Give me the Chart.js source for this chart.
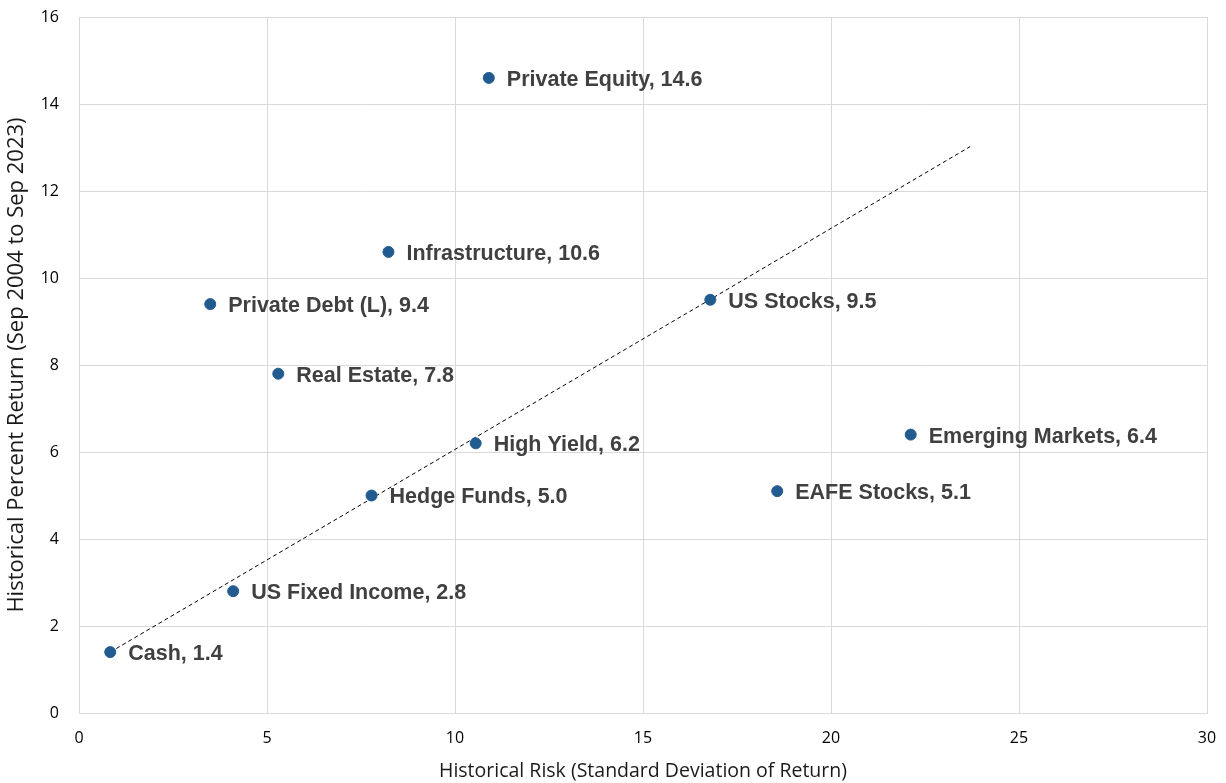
<!DOCTYPE html>
<html>
<head>
<meta charset="utf-8">
<script src="https://cdn.jsdelivr.net/npm/chart.js@4"></script>
<style>
  html, body { margin: 0; padding: 0; background: #fff; }
  #wrap { width: 1226px; height: 783px; }
</style>
</head>
<body>
<div id="wrap"><canvas id="riskReturn"></canvas></div>
<script>
// asset classes, risk (x) and return (y)
const assetNames = [
    "Cash", "US Fixed Income", "Hedge Funds", "High Yield", "Real Estate",
    "Private Debt (L)", "Infrastructure", "Private Equity", "US Stocks",
    "Emerging Markets", "EAFE Stocks",
];
const riskValues = [0.83, 4.1, 7.78, 10.55, 5.3, 3.49, 8.23, 10.9, 16.79, 22.12, 18.57];
const returnValues = [1.4, 2.8, 5.0, 6.2, 7.8, 9.4, 10.6, 14.6, 9.5, 6.4, 5.1];

// trendline endpoints (risk, return)
const trendX = [0.83, 23.7];
const trendY = [1.4, 13.02];

const xTicks = [0, 5, 10, 15, 20, 25, 30];
const yTicks = [0, 2, 4, 6, 8, 10, 12, 14, 16];

const pointColor = "#225b8f";
const labelColor = "#404040";
const gridColor = "#d9d9d9";

const tickFont = { family: "'Open Sans', Lato, sans-serif", size: 16 };

// draws "Name, value" next to each point
const pointLabels = {
    id: "pointLabels",
    afterDatasetsDraw(chart) {
        const { ctx } = chart;
        const meta = chart.getDatasetMeta(0);
        ctx.save();
        ctx.font = "bold 21.5px 'Liberation Sans', Arial, sans-serif";
        ctx.fillStyle = labelColor;
        ctx.textAlign = "left";
        ctx.textBaseline = "middle";
        meta.data.forEach((pt, i) => {
            const txt = `${assetNames[i]}, ${returnValues[i].toFixed(1)}`;
            ctx.fillText(txt, pt.x + 18, pt.y + 2);
        });
        ctx.restore();
    },
};

const ctx = document.getElementById("riskReturn");

new Chart(ctx, {
    type: "scatter",
    data: {
        datasets: [
            {
                label: "Asset Classes",
                data: riskValues.map((x, i) => ({ x, y: returnValues[i] })),
                backgroundColor: pointColor,
                borderColor: pointColor,
                pointRadius: 5.5,
                pointHoverRadius: 5.5,
                order: 1,
            },
            {
                label: "Trend",
                type: "line",
                data: trendX.map((x, i) => ({ x, y: trendY[i] })),
                borderColor: "#000",
                borderWidth: 1,
                borderDash: [4, 3],
                pointRadius: 0,
                fill: false,
                order: 2,
            },
        ],
    },
    options: {
        responsive: true,
        maintainAspectRatio: false,
        animation: false,
        layout: { padding: { top: 17, right: 19, left: 0, bottom: 0 } },
        scales: {
            x: {
                type: "linear",
                min: 0,
                max: 30,
                afterBuildTicks: (scale) => {
                    scale.ticks = xTicks.map((v) => ({ value: v }));
                },
                afterFit: (scale) => {
                    scale.height = 70;
                    scale.paddingLeft = 0;
                    scale.paddingRight = 0;
                },
                grid: { color: gridColor, lineWidth: 1, drawTicks: false },
                border: { color: gridColor, width: 1 },
                ticks: { color: "#000", font: tickFont, padding: 16 },
                title: {
                    display: true,
                    text: "Historical Risk (Standard Deviation of Return)",
                    color: "#1a1a1a",
                    font: { family: "'Open Sans', Lato, sans-serif", size: 19.5 },
                    padding: { top: 0, bottom: 0 },
                },
            },
            y: {
                type: "linear",
                min: 0,
                max: 16,
                afterBuildTicks: (scale) => {
                    scale.ticks = yTicks.map((v) => ({ value: v }));
                },
                afterFit: (scale) => {
                    scale.width = 79;
                    scale.paddingTop = 0;
                    scale.paddingBottom = 0;
                },
                grid: { color: gridColor, lineWidth: 1, drawTicks: false },
                border: { color: gridColor, width: 1 },
                ticks: { color: "#000", font: tickFont, padding: 20 },
                title: {
                    display: true,
                    text: "Historical Percent Return (Sep 2004 to Sep 2023)",
                    color: "#1a1a1a",
                    font: { family: "'Open Sans', Lato, sans-serif", size: 22 },
                    padding: { top: 4, bottom: 0 },
                },
            },
        },
        plugins: {
            legend: { display: false },
            tooltip: { enabled: false },
        },
    },
    plugins: [pointLabels],
});
</script>
</body>
</html>
